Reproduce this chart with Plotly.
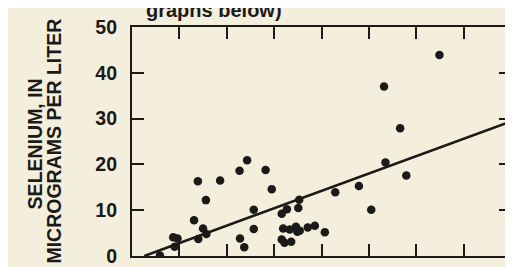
import plotly.graph_objects as go

# Scatter data (x in plot units 0-8, selenium in micrograms per liter)
x_vals = [0.59, 0.87, 0.96, 0.90, 1.31, 1.39, 1.50, 1.40, 1.56, 1.57,
          1.86, 2.27, 2.43, 2.28, 2.37, 2.57, 2.57, 2.82, 2.95, 3.16,
          3.27, 3.53, 3.51, 3.19, 3.16, 3.22, 3.36, 3.33, 3.46, 3.49,
          3.54, 3.71, 3.86, 4.07, 4.29, 4.79, 5.05, 5.32, 5.66, 5.35,
          5.79, 6.49]
selenium = [0.1, 4.1, 3.8, 2.0, 7.8, 16.3, 6.0, 3.7, 12.2, 4.8,
            16.5, 18.6, 20.9, 3.8, 1.9, 10.1, 5.9, 18.8, 14.6, 9.2,
            10.2, 12.3, 10.5, 6.0, 3.6, 2.9, 3.1, 5.8, 6.4, 5.3,
            5.5, 6.2, 6.6, 5.2, 13.9, 15.3, 10.1, 37.0, 27.9, 20.4,
            17.6, 43.9]

# Regression line end points
line_x = [0.26, 8.0]
line_y = [0.0, 29.4]

y_ticks = [0, 10, 20, 30, 40, 50]
x_ticks = [1, 2, 3, 4, 5, 6, 7]

title_text = "graphs below)"
ylabel_1 = "SELENIUM, IN"
ylabel_2 = "MICROGRAMS PER LITER"

ink = "#1b1a18"
bg = "#f4efdd"

fig = go.Figure()
fig.add_trace(go.Scatter(x=line_x, y=line_y, mode="lines",
                         line=dict(color=ink, width=2.6), hoverinfo="skip"))
fig.add_trace(go.Scatter(x=x_vals, y=selenium, mode="markers",
                         marker=dict(color=ink, size=8.5, line=dict(width=0))))

fig.update_layout(
    width=513, height=267,
    margin=dict(l=124, r=8, t=18, b=11),
    paper_bgcolor=bg, plot_bgcolor=bg,
    showlegend=False,
    xaxis=dict(range=[0, 8], tickvals=x_ticks, showticklabels=False,
               ticks="inside", ticklen=12, tickwidth=2, tickcolor=ink,
               showline=True, linewidth=2.2, linecolor=ink, mirror="ticks",
               showgrid=False, zeroline=False),
    yaxis=dict(range=[0, 50], tickvals=y_ticks, ticks="inside", ticklen=12,
               tickwidth=2, tickcolor=ink,
               showline=True, linewidth=2.2, linecolor=ink, mirror="ticks",
               showgrid=False, zeroline=False, ticklabelstandoff=9,
               tickfont=dict(family="Liberation Sans", size=19.5, color=ink,
                             weight="bold")),
)

fig.add_annotation(text=title_text, xref="x", yref="paper", x=1.74, y=1,
                   xanchor="center", yanchor="bottom", yshift=4,
                   showarrow=False,
                   font=dict(family="Liberation Sans", size=20, color=ink,
                             weight="bold"))
fig.add_annotation(text=ylabel_1, xref="paper", yref="paper", x=-0.257,
                   y=0.49, textangle=-90, showarrow=False,
                   xanchor="center", yanchor="middle",
                   font=dict(family="Liberation Sans", size=19.5, color=ink,
                             weight="bold"))
fig.add_annotation(text=ylabel_2, xref="paper", yref="paper", x=-0.207,
                   y=0.502, textangle=-90, showarrow=False,
                   xanchor="center", yanchor="middle",
                   font=dict(family="Liberation Sans", size=19.5, color=ink,
                             weight="bold"))

fig.write_html("out.html")
